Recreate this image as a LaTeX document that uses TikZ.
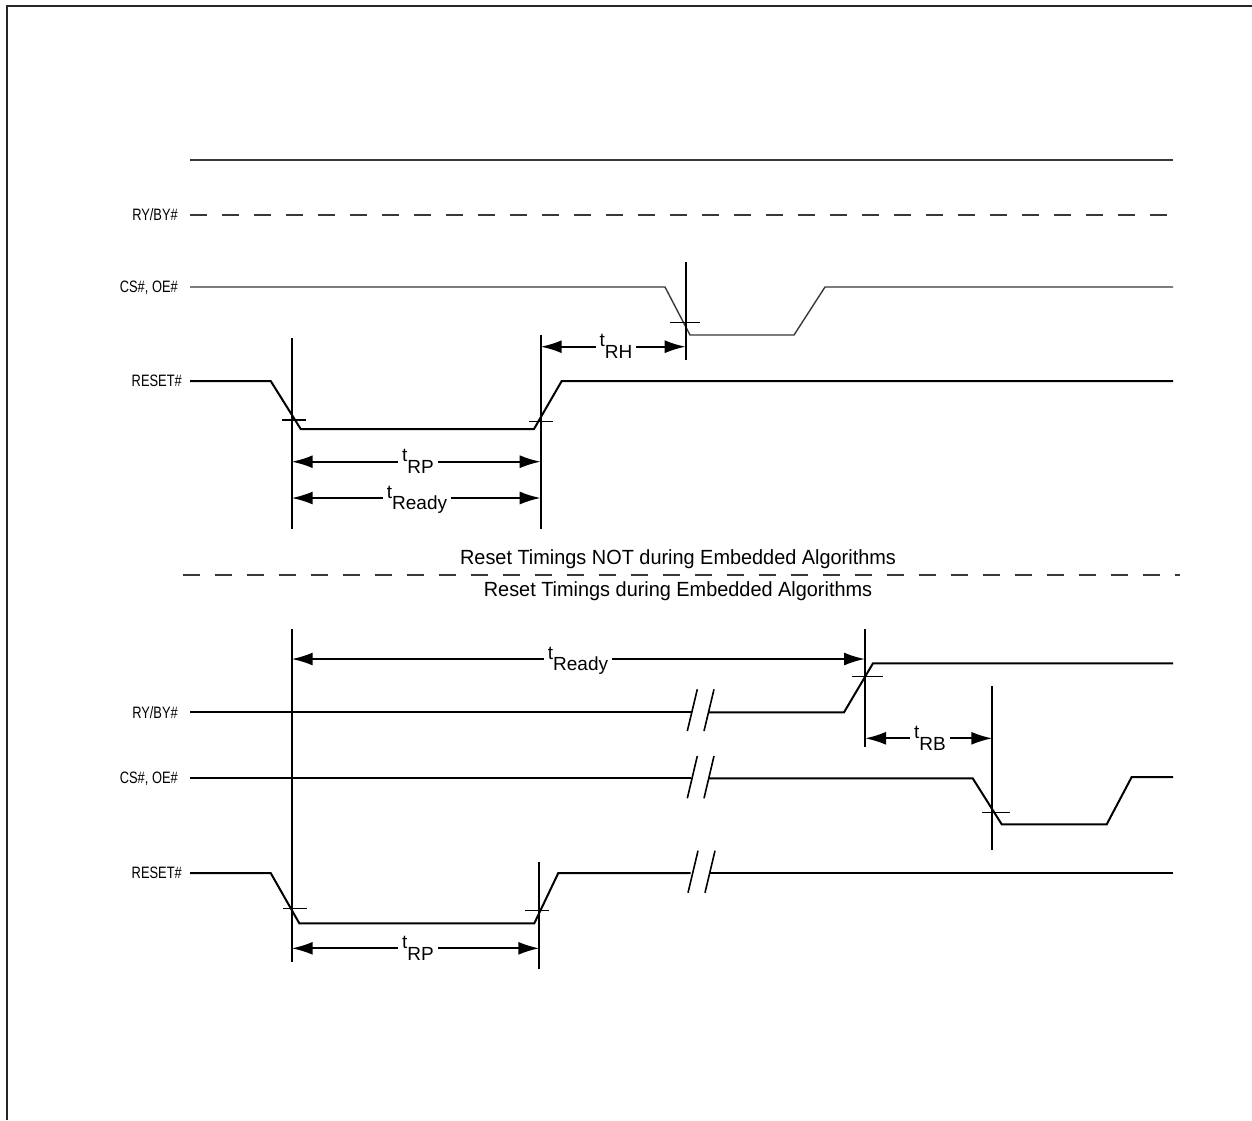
\documentclass[tikz,border=0pt]{standalone}
\usepackage{fontspec}
\setmainfont{Liberation Sans}
\newfontfamily\narrowfont[FakeStretch=0.78]{Liberation Sans}
\newfontfamily\capfont[FakeStretch=0.97]{Liberation Sans}
\usetikzlibrary{arrows.meta}
\newcommand\tlab[1]{t\raisebox{-0.63em}{#1}}
\tikzset{
  sig/.style={line width=2pt, line join=miter},
  thinsig/.style={line width=1.4pt, draw=black!78},
  marker/.style={line width=2pt},
  tickmark/.style={line width=1.5pt},
  brk/.style={line width=1.6pt},
  dim/.style={line width=2pt, {Latex[length=21pt,width=13pt]}-{Latex[length=21pt,width=13pt]}},
  tlabel/.style={fill=white, inner xsep=4pt, inner ysep=1pt, anchor=base, font=\fontsize{19}{19}\selectfont},
  siglabel/.style={anchor=east, inner sep=0pt, text height=11.8pt, text depth=0pt, font=\narrowfont\fontsize{16.5}{16.5}\selectfont},
  caption/.style={font=\capfont\fontsize{20.5}{20.5}\selectfont, inner sep=0pt, anchor=base},
}
\begin{document}
\begin{tikzpicture}[x=1pt,y=-1pt]
\useasboundingbox (0,0) rectangle (1252,1120);
% frame
\draw[line width=2.4pt, black!85] (7,1120) -- (7,6) -- (1252,6);

% ---------- top section ----------
\draw[thinsig] (190,160) -- (1173,160);
\draw[thinsig, dash pattern=on 17pt off 15pt] (190,215) -- (1172,215);
\node[siglabel] (lry1) at (178,215) {RY/BY\#};
\draw[thinsig] (190,287) -- (665,287) -- (690,335) -- (794,335) -- (825,287) -- (1173,287);
\node[siglabel] (lcs1) at (178,287) {CS\#, OE\#};
\draw[sig] (190,381) -- (270.7,381) -- (300.7,429) -- (534,429) -- (561.7,381) -- (1173,381);
\node[siglabel] (lrs1) at (182,381) {RESET\#};

\coordinate (m1t) at (291.7,338); \coordinate (m1b) at (291.7,529);
\coordinate (m2t) at (540.7,335); \coordinate (m2b) at (540.7,529);
\coordinate (m3t) at (685.7,262); \coordinate (m3b) at (685.7,360);
\draw[marker] (m1t) -- (m1b);
\draw[marker] (m2t) -- (m2b);
\draw[marker] (m3t) -- (m3b);
\draw[tickmark] (282,420) -- (306,420);
\draw[tickmark] (529,421.7) -- (552.7,421.7);
\draw[tickmark] (670,322.7) -- (700,322.7);

\coordinate (a1l) at (291.7,461.7); \coordinate (a1r) at (540.7,461.7);
\draw[dim] (a1l) -- (a1r);
\node[tlabel] (trp1) at (418,461.7) {\tlab{RP}};
\coordinate (a2l) at (291.7,498); \coordinate (a2r) at (540.7,498);
\draw[dim] (a2l) -- (a2r);
\node[tlabel] (trd1) at (417,498) {\tlab{Ready}};
\coordinate (a3l) at (540.7,346.7); \coordinate (a3r) at (685.7,346.7);
\draw[dim] (a3l) -- (a3r);
\node[tlabel] (trh) at (616,346.7) {\tlab{RH}};

% ---------- middle ----------
\node[caption] (c1) at (678,564.5) {Reset Timings NOT during Embedded Algorithms};
\draw[thinsig, dash pattern=on 17pt off 15pt] (183,575) -- (1180,575);
\node[caption] (c2) at (678,596) {Reset Timings during Embedded Algorithms};

% ---------- bottom section ----------
\node[siglabel] (lry2) at (178,713) {RY/BY\#};
\node[siglabel] (lcs2) at (178,778) {CS\#, OE\#};
\node[siglabel] (lrs2) at (182,873) {RESET\#};

\draw[sig] (190,712.3) -- (690.7,712.3);
\draw[sig] (709,712.3) -- (844,712.3) -- (873,663.3) -- (1173,663.3);
\draw[brk] (687.3,731) -- (697.3,689.3);
\draw[brk] (704,731) -- (714,689.3);

\draw[sig] (190,778.3) -- (690.7,778.3);
\draw[sig] (709,778.3) -- (972.7,778.3) -- (1001.7,824.3) -- (1106.7,824.3) -- (1131.7,777) -- (1173,777);
\draw[brk] (687.3,798.3) -- (697.3,756);
\draw[brk] (704,798.3) -- (714,756);

\draw[sig] (190,873) -- (270.7,873) -- (299.3,923.3) -- (534.3,923.3) -- (558.3,873) -- (690.7,873);
\draw[sig] (710,873) -- (1173,873);
\draw[brk] (688,892.7) -- (698,850.7);
\draw[brk] (705,892.7) -- (715,850.7);

\coordinate (m4t) at (291.7,629); \coordinate (m4b) at (291.7,961.7);
\coordinate (m5t) at (539.3,861.7); \coordinate (m5b) at (539.3,969);
\coordinate (m6t) at (865,629); \coordinate (m6b) at (865,746.7);
\coordinate (m7t) at (992.3,686); \coordinate (m7b) at (992.3,850);
\draw[marker] (m4t) -- (m4b);
\draw[marker] (m5t) -- (m5b);
\draw[marker] (m6t) -- (m6b);
\draw[marker] (m7t) -- (m7b);
\draw[tickmark] (283.3,908.3) -- (307.3,908.3);
\draw[tickmark] (525,910.7) -- (549.3,910.7);
\draw[tickmark] (851.7,676.7) -- (882.7,676.7);
\draw[tickmark] (982,812.7) -- (1010,812.7);

\coordinate (b1l) at (291.7,659); \coordinate (b1r) at (865,659);
\draw[dim] (b1l) -- (b1r);
\node[tlabel] (trd2) at (578,659) {\tlab{Ready}};
\coordinate (b2l) at (291.7,948.3); \coordinate (b2r) at (539.3,948.3);
\draw[dim] (b2l) -- (b2r);
\node[tlabel] (trp2) at (418,948.3) {\tlab{RP}};
\coordinate (b3l) at (865,738.3); \coordinate (b3r) at (992.3,738.3);
\draw[dim] (b3l) -- (b3r);
\node[tlabel] (trb) at (930,738.3) {\tlab{RB}};
\end{tikzpicture}
\end{document}
